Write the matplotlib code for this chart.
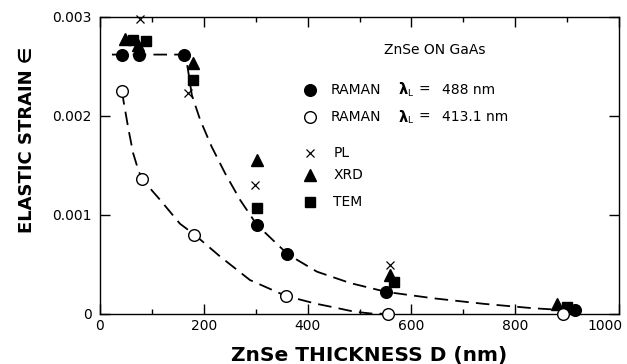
import matplotlib
matplotlib.use("Agg")
import matplotlib.pyplot as plt
from matplotlib.ticker import MultipleLocator, FixedLocator
from matplotlib.transforms import ScaledTranslation

plt.rcParams['font.family'] = ['DejaVu Sans']

# ---- data ----
raman488_x = [42, 75, 161, 302, 361, 552, 915]
raman488_y = [0.00262, 0.00262, 0.00262, 0.00090, 0.00060, 0.00022, 0.00004]

raman413_x = [43, 81, 182, 358, 555, 893]
raman413_y = [0.00225, 0.00136, 0.00080, 0.00018, 0.0, 0.0]

pl_x = [77, 170, 299, 559]
pl_y = [0.00298, 0.00223, 0.00130, 0.00049]

xrd_x = [48, 74, 180, 303, 559, 881]
xrd_y = [0.00278, 0.00272, 0.00253, 0.00155, 0.00039, 0.00010]

tem_x = [64, 88, 179, 303, 566, 899]
tem_y = [0.00277, 0.00276, 0.00236, 0.00107, 0.00032, 0.00007]

# dashed guide curves
fit488_x = [23, 100, 161, 166, 170, 177, 193, 215, 241, 270, 302, 362, 418, 482, 552, 642, 739, 835, 915]
fit488_y = [0.00262, 0.00262, 0.00262, 0.00258, 0.00245, 0.00221, 0.00196, 0.00169, 0.00142, 0.00115,
            0.00090, 0.00060, 0.000425, 0.00031, 0.00022, 0.000156, 0.00010, 0.000055, 0.00003]

fit413_x = [43, 45, 55, 64, 74, 81, 116, 154, 182, 231, 289, 358, 417, 450, 490, 526, 555]
fit413_y = [0.00225, 0.00216, 0.00186, 0.00162, 0.00145, 0.00136, 0.00115, 0.00091, 0.00080,
            0.00058, 0.00034, 0.00018, 0.00010, 0.000065, 0.00002, 0.0, 0.0]

x_ticks = [0, 200, 400, 600, 800, 1000]
y_ticks = [0, 0.001, 0.002, 0.003]
y_ticklabels = ["0", "0.001", "0.002", "0.003"]

W, H = 627, 364
fig = plt.figure(figsize=(W / 100, H / 100), dpi=100)
ax = fig.add_axes([100 / W, 1 - 313.7 / H, 519 / W, 296.7 / H])

dash = (0, (7.5, 4))
ax.plot(fit488_x, fit488_y, color='black', lw=1.3, ls=dash, zorder=1)
ax.plot(fit413_x, fit413_y, color='black', lw=1.3, ls=dash, zorder=1)

ax.plot(raman488_x, raman488_y, 'o', ms=8.4, color='black', ls='none', zorder=3, clip_on=False)
ax.plot(raman413_x, raman413_y, 'o', ms=8.4, mfc='white', mec='black', mew=1.0, ls='none', zorder=3, clip_on=False)
ax.plot(pl_x, pl_y, 'x', ms=5.5, color='black', mew=0.9, ls='none', zorder=4, clip_on=False)
ax.plot(xrd_x, xrd_y, '^', ms=8.2, color='black', ls='none', zorder=2, clip_on=False)
ax.plot(tem_x, tem_y, 's', ms=7, color='black', ls='none', zorder=2, clip_on=False)

ax.set_xlim(0, 1000)
ax.set_ylim(0, 0.003)
ax.xaxis.set_major_locator(FixedLocator(x_ticks))
ax.xaxis.set_minor_locator(MultipleLocator(100))
ax.yaxis.set_major_locator(FixedLocator(y_ticks))
ax.set_yticklabels(y_ticklabels)
ax.tick_params(which='both', direction='in', top=True, right=True, width=1.0, labelsize=10)
ax.tick_params(which='major', length=7)
ax.tick_params(which='minor', length=3.8)
ax.tick_params(axis='x', pad=4)
ax.tick_params(axis='y', pad=6)
for s in ax.spines.values():
    s.set_linewidth(1.0)

fig.canvas.draw()
last = ax.get_xticklabels()[-1]
last.set_transform(last.get_transform() + ScaledTranslation(-14 / 100, 0, fig.dpi_scale_trans))

# axis titles
fig.text(369 / W, 1 - 355 / H, "ZnSe THICKNESS D (nm)", ha='center', va='center',
         fontsize=14.5, fontweight='bold')
fig.text(27 / W, 1 - 140 / H, "ELASTIC STRAIN \u2208", ha='center', va='center',
         rotation=90, fontsize=13, fontweight='bold')

# legend block
def fx(px):
    return px / W

def fy(py):
    return 1 - py / H

fs = 10
fig.text(fx(435), fy(50), "ZnSe ON GaAs", ha='center', va='center', fontsize=fs)

mk_x = 310
rows = [
    (90, dict(marker='o', ms=8.4, color='black')),
    (117, dict(marker='o', ms=8.4, mfc='white', mec='black', mew=1.0)),
    (153, dict(marker='x', ms=5.5, color='black', mew=0.9)),
    (175, dict(marker='^', ms=8.2, color='black')),
    (202, dict(marker='s', ms=7, color='black')),
]
for py, kw in rows:
    ax.plot([fx(mk_x)], [fy(py)], ls='none', transform=fig.transFigure, clip_on=False, **kw)

for py, wl in [(90, "488 nm"), (117, "413.1 nm")]:
    fig.text(fx(331), fy(py), "RAMAN", ha='left', va='center', fontsize=fs)
    fig.text(fx(399), fy(py), "\u03bb", ha='left', va='center', fontsize=fs + 0.5, fontweight='bold')
    fig.text(fx(407), fy(py + 3.5), "L", ha='left', va='center', fontsize=6.5)
    fig.text(fx(419), fy(py), "=", ha='left', va='center', fontsize=fs)
    fig.text(fx(442), fy(py), wl, ha='left', va='center', fontsize=fs)

fig.text(fx(334), fy(153), "PL", ha='left', va='center', fontsize=fs)
fig.text(fx(334), fy(175), "XRD", ha='left', va='center', fontsize=fs)
fig.text(fx(333), fy(202), "TEM", ha='left', va='center', fontsize=fs)

fig.savefig("out.png", dpi=100)
